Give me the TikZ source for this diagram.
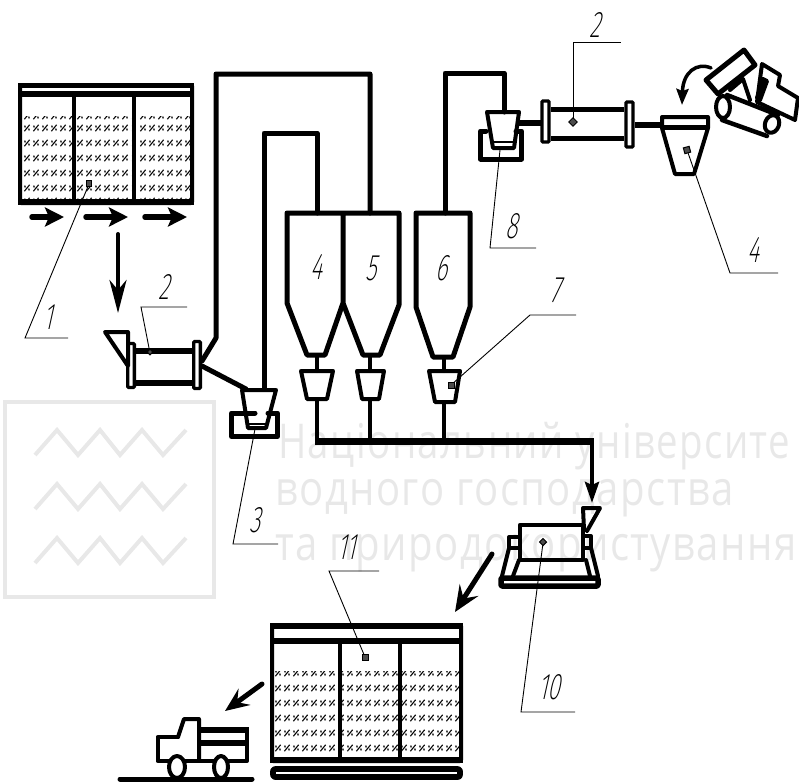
\documentclass[tikz,border=0pt]{standalone}
\usepackage{fontspec}
\setmainfont{Liberation Sans}
\newfontfamily\lab[FakeSlant=0.22,FakeStretch=0.62]{Fira Sans ExtraLight}
\newfontfamily\wm[FakeStretch=0.835,LetterSpace=3]{Open Sans}
\newfontfamily\wmn[FakeStretch=0.80,LetterSpace=3]{Open Sans}
\usetikzlibrary{arrows.meta}
\definecolor{wmgray}{gray}{0.91}
\tikzset{
  heavy/.style={line width=6pt,line join=round,line cap=round},
  pipe/.style={line width=5pt,line join=round,line cap=round},
  wall/.style={line width=4pt,line join=round,line cap=round},
  thin lead/.style={line width=0.9pt},
  numlabel/.style={font=\lab\fontsize{37}{37}\selectfont,inner sep=0pt},
  shortarrow/.style={line width=5.5pt,line cap=round,-{Stealth[length=19pt,width=19pt,inset=4pt]}},
  hatchmark/.style={line width=1.1pt},
  wmtext/.style={text=wmgray,anchor=west,inner sep=0pt,font=\wm\fontsize{48}{48}\selectfont},
  wmline/.style={draw=wmgray,line width=4pt,line join=miter},
  tag/.style={line width=1pt,fill=black!70}
}
\newcommand{\hatchcell}[2]{%
  \draw[hatchmark] (#1-2.6,#2+3.2) -- (#1+2.6,#2-3.2);
  \draw[line width=1.3pt] (#1-2.2,#2-2.4) -- (#1-1.8,#2-0.6) (#1+1.8,#2+0.6) -- (#1+2.2,#2+2.4);}
\begin{document}
\begin{tikzpicture}[x=1pt,y=-1pt]
\useasboundingbox (0,0) rectangle (799,782);
% watermark
\draw[wmline] (5,402) rectangle (214,597);
\foreach \r in {0,54,108}{
  \draw[wmline] (35,455+\r) -- (57,430+\r) -- (78,455+\r) -- (100,430+\r) -- (120,455+\r) -- (142,430+\r) -- (163,455+\r) -- (186,430+\r);}
\node[wmtext,font=\wmn\fontsize{48}{48}\selectfont] (wmA) at (278,446) {Національний університе};
\node[wmtext] (wmB) at (275,498) {водного господарства};
\node[wmtext] (wmC) at (275,553) {та природокористування};

% top-left silo
\foreach \xa/\xb/\xs in {22/72/27,76/131/80,136/190/143}{
  \begin{scope}
    \clip (\xa,116) rectangle (\xb,199);
    \foreach \i in {0,...,6}{ \foreach \ry in {116,128,143,158,173,188,201}{
      \hatchcell{\xs+9*\i}{\ry} } }
  \end{scope}}
\draw[pipe,line width=4pt,rounded corners=1pt] (20,85) rectangle (192,203);
\draw[pipe,line cap=butt] (18,85) -- (194,85);
\draw[heavy,line cap=butt] (18,93.5) -- (194,93.5);
\draw[heavy,line cap=butt] (18,202) -- (194,202);
\draw[wall,line cap=butt] (74,93) -- (74,202) (133.5,93) -- (133.5,202);
\draw[shortarrow] (32,217) -- (64,217);
\draw[shortarrow] (86,217) -- (128,217);
\draw[shortarrow] (145,217) -- (187,217);
\draw[line width=4pt,line cap=round,-{Stealth[length=33pt,width=17pt,inset=10pt]}] (118,234) -- (118,313);

% lower-left mill
\draw[wall] (105,332) -- (128,332) -- (128,366) -- cycle;
\draw[line width=3.4pt,rounded corners=1pt] (127.7,343.5) rectangle (134.3,387.5);
\draw[line width=3.4pt,rounded corners=1pt] (193.7,341.5) rectangle (200.3,388.5);
\draw[heavy,line cap=butt] (136,351) -- (192,351) (136,383) -- (192,383);
\draw[pipe] (202,361) -- (216,338) -- (216,74) -- (370,74) -- (370,213);
\draw[pipe] (202,366) -- (246,389);
\draw[pipe] (264,389) -- (264,133) -- (317,133) -- (317,213);
% feeder 3
\draw[pipe] (255,413) -- (231.5,413) -- (231.5,436.5) -- (277.5,436.5) -- (277.5,413) -- (268,413);
\draw[wall] (242,390) -- (276,390) -- (266,428) -- (248,428) -- cycle;
\draw[line width=2.6pt] (249,424) -- (265,424);

% silos
\draw[pipe] (343,213) -- (287,213) -- (287,303) -- (307,355) -- (325,355) -- (343,303) -- (343,213) -- (399,213) -- (399,305) -- (380,355) -- (363,355) -- (343,303);
\draw[pipe] (416,213) -- (470,213) -- (470,307) -- (453,357) -- (433,357) -- (416,307) -- cycle;
\draw[wall] (317,355) -- (317,371) (370,355) -- (370,371) (444,357) -- (444,371);
\draw[wall] (301,371) -- (333,371) -- (327,399) -- (307,399) -- cycle;
\draw[wall] (357,371) -- (384,371) -- (379,399) -- (362,399) -- cycle;
\draw[wall] (429,371) -- (460,371) -- (455,402) -- (435,402) -- cycle;
\draw[wall] (317,399) -- (317,441) (370,399) -- (370,441) (444,402) -- (444,441);
\draw[heavy,line width=7pt,line cap=butt] (315,441) -- (594,441);
\draw[line width=4pt,-{Stealth[length=21pt,width=14pt,inset=3pt]}] (592,441) -- (592,503);

% mill 10
\draw[wall] (583,508) -- (600,508) -- (587,531) (583,508) -- (584,530);
\draw[pipe,line width=4.5pt] (520,560) -- (520,525) -- (583,525) -- (583,560) -- cycle;
\draw[wall] (519,537) -- (509,537) -- (509,548) -- (519,548);
\draw[wall] (585,536) -- (591,536) -- (591,548) -- (585,548);
\draw[wall] (509,548) -- (502,576) (519,560) -- (513,576) (586,560) -- (590,576) (591,548) -- (598,576);
\draw[pipe,line width=5.5pt,rounded corners=1pt] (501,578) rectangle (598,586);
\draw[line width=5pt,line cap=round,-{Stealth[length=26pt,width=22pt,inset=10pt]}] (492,554) -- (455,612);

% bottom silo
\foreach \xa/\xb/\xs in {275/338/278,342/398/350,402/459/404}{
  \begin{scope}
    \clip (\xa,671) rectangle (\xb,757);
    \foreach \i in {-1,...,6}{ \foreach \ry in {673,688,703,718,733,748,761}{
      \hatchcell{\xs+9*\i}{\ry} } }
  \end{scope}}
\draw[wall,rounded corners=1pt] (272,625) rectangle (461,761);
\draw[heavy,line cap=butt] (270,626) -- (463,626) (270,641) -- (463,641) (270,760) -- (463,760);
\draw[wall,line cap=butt] (339.5,641) -- (339.5,760) (400,641) -- (400,760);
\draw[heavy,line width=5.6pt,rounded corners=2pt] (273,769) rectangle (460,777);
\draw[line width=5pt,line cap=round,-{Stealth[length=24pt,width=20pt,inset=9pt]}] (262,684) -- (225,711);

% truck
\draw[pipe,line cap=round] (120,779) -- (252,779);
\draw[wall] (178,737) -- (157.5,737) -- (157.5,761) -- (247,761) -- (247,729) -- (199,729);
\draw[wall] (178,737) -- (184,719) -- (199,719) -- (199,760);
\draw[pipe,line width=5.5pt,line cap=butt] (199,743) -- (249,743) (199,730) -- (249,730);
\draw[wall,fill=white] (177,767) ellipse [x radius=8,y radius=11];
\draw[wall,fill=white] (221,767) ellipse [x radius=7,y radius=11];

% top-right mill
\draw[pipe] (445,213) -- (445,73) -- (504,73) -- (504,112);
\draw[pipe] (486,131) -- (480.5,131) -- (480.5,159) -- (521.5,159) -- (521.5,131) -- (516,131);
\draw[wall] (487,112) -- (519,112) -- (514,148) -- (493,148) -- cycle;
\draw[line width=2.6pt] (492,142) -- (514,142);
\draw[heavy,line cap=butt] (518,123) -- (541,123);
\draw[line width=3.4pt,rounded corners=1pt] (542,101) rectangle (549,142);
\draw[line width=3.4pt,rounded corners=1pt] (626,102) rectangle (633,147);
\draw[pipe,line cap=butt] (551,109) -- (624,109) (551,138) -- (624,138);
\draw[heavy,line cap=butt] (635,125) -- (662,125);
\draw[wall] (662,117) -- (708,117) -- (708,128) -- (694,174) -- (675,174) -- (662,128) -- cycle;
\draw[wall,line width=5pt,line cap=butt] (662,127) -- (708,127);

% dump truck
\draw[line width=3.5pt,-{Stealth[length=16pt,width=12pt,inset=2pt]},line cap=round] (711,68) .. controls (697,62) and (683,72) .. (682,105);
\draw[pipe,fill=white] (706,80) -- (744,50) -- (755,65) -- (718,94) -- cycle;
\draw[wall] (730,90) -- (743,79) -- (750,100);
\draw[wall] (757,102) -- (762,64) -- (780,75) -- (778,86) -- (798,98) -- (795,120) -- cycle;
\draw[wall] (763,79) -- (767,81) -- (760,100) -- (757,98) -- cycle;
\draw[pipe,line width=4.5pt] (727,95) -- (778,115) (722,120) -- (767,136);
\draw[wall,fill=white] (723,107) ellipse [x radius=7,y radius=11];
\draw[wall,fill=white,rotate around={-20:(772,124)}] (772,124) ellipse [x radius=7,y radius=9];

% leaders
\draw[thin lead] (89,184) -- (25,338) -- (68,338);
\draw[thin lead] (150,353) -- (141,307) -- (187,307);
\draw[thin lead] (255,429) -- (233,544) -- (278,544);
\draw[thin lead] (500,150) -- (490,248) -- (536,248);
\draw[thin lead] (573,122) -- (573,42) -- (621,42);
\draw[thin lead] (687,150) -- (730,273) -- (778,273);
\draw[thin lead] (451,385) -- (530,315) -- (576,315);
\draw[thin lead] (543,543) -- (521,712) -- (575,712);
\draw[thin lead] (365,657) -- (329,571) -- (379,571);

% small marker squares
\draw[tag] (86.5,180.5) rectangle (91.5,186);
\draw[tag] (448.5,382) rectangle (454,388);
\draw[tag,rotate around={15:(687,150)}] (684,147) rectangle (690,153);
\draw[tag] (362,654) rectangle (368,660);
\draw[tag,rotate around={45:(573,122)}] (570,119) rectangle (576,125);
\draw[tag,rotate around={45:(543,542)}] (540.5,539.5) rectangle (545.5,544.5);
\draw[tag,rotate around={45:(150,352)}] (148,350) rectangle (152,354);

% numbers
\node[numlabel] (n1) at (48,317) {1};
\node[numlabel] (n2a) at (164,287) {2};
\node[numlabel] (n2b) at (595,25) {2};
\node[numlabel] (n3) at (255,520) {3};
\node[numlabel] (n4a) at (316,267) {4};
\node[numlabel] (n5) at (371,268) {5};
\node[numlabel] (n6) at (441,268) {6};
\node[numlabel] (n4b) at (753,250) {4};
\node[numlabel] (n7) at (555,290) {7};
\node[numlabel] (n8) at (512,226) {8};
\node[numlabel] (n10) at (549,687) {10};
\node[numlabel] (n11) at (347,547) {11};
\end{tikzpicture}
\end{document}
